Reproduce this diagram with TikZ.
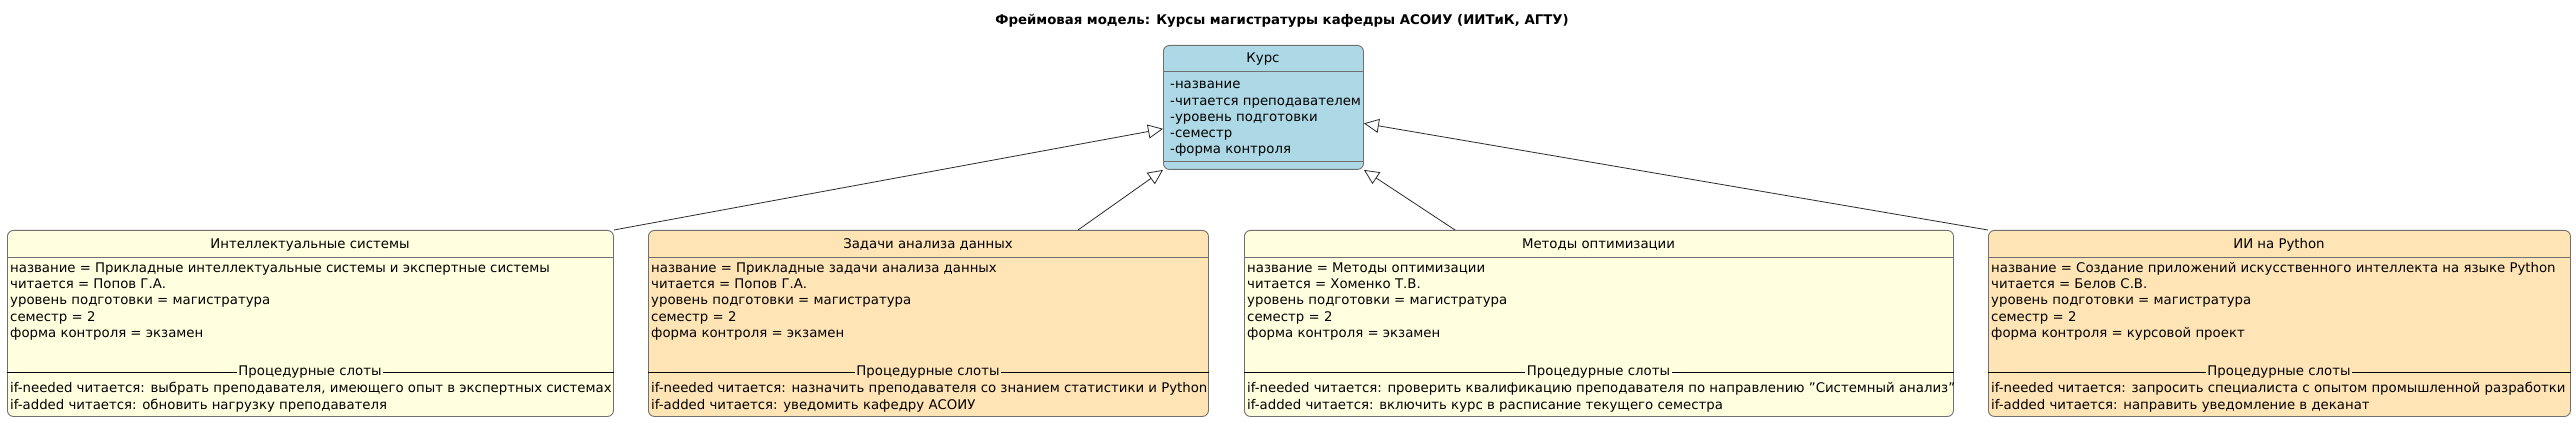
\documentclass[tikz,border=0pt]{standalone}
\usepackage{fontspec}
\setmainfont{DejaVu Sans}
\usetikzlibrary{arrows.meta}
\definecolor{kursblue}{HTML}{ADD8E6}
\definecolor{fyellow}{HTML}{FFFFE0}
\definecolor{forange}{HTML}{FFE4B5}
\definecolor{bordergray}{HTML}{707070}
\definecolor{linegray}{HTML}{2A2A2A}
\begin{document}
\begin{tikzpicture}[x=1pt,y=-1pt,
  frame/.style={draw=bordergray, line width=0.9pt, rounded corners=6pt, inner sep=0pt, anchor=north west},
  txt/.style={inner sep=0pt, font=\fontsize{13.3}{16.3}\selectfont},
  ttl/.style={inner sep=0pt, font=\fontsize{13.3}{16.3}\selectfont\bfseries},
  hsep/.style={draw=bordergray, line width=0.9pt},
  psep/.style={draw=black, line width=0.8pt},
  plabel/.style={txt, inner xsep=1.5pt, inner ysep=1pt},
  genarrow/.style={draw=linegray, line width=0.8pt, -{Triangle[open, length=15pt, width=14pt, fill=white]}}
]
\useasboundingbox (0,0) rectangle (2576,422);

\node[ttl, anchor=base] (title) at (1282,24.5) {Фреймовая модель: Курсы магистратуры кафедры АСОИУ (ИИТиК, АГТУ)};

% Kurs
\node[frame, fill=kursblue, minimum width=200pt, minimum height=124pt] (k) at (1163,45) {};
\node[txt, anchor=base] (kh) at (1263,62.5) {Курс};
\draw[hsep] (k.west |- 0,71) -- (k.east |- 0,71);
\draw[hsep] (k.west |- 0,161) -- (k.east |- 0,161);
\node[txt, anchor=north west, align=left] (ka) at (1170,77.1) {\strut-название\\-читается преподавателем\\-уровень подготовки\\-семестр\\-форма контроля};

% Box 1
\node[frame, fill=fyellow, minimum width=606pt, minimum height=186pt] (b1) at (7,230) {};
\node[txt, anchor=base] (b1h) at (310,248.5) {Интеллектуальные системы};
\draw[hsep] (b1.west |- 0,257) -- (b1.east |- 0,257);
\node[txt, anchor=north west, align=left] (b1a) at (10,260.6) {\strut название = Прикладные интеллектуальные системы и экспертные системы\\читается = Попов Г.А.\\уровень подготовки = магистратура\\семестр = 2\\форма контроля = экзамен};
\draw[psep] (b1.west |- 0,372) -- (b1.east |- 0,372);
\node[plabel, fill=fyellow] (b1s) at (310,372) {Процедурные слоты};
\node[txt, anchor=north west, align=left] (b1p) at (10,381.1) {\strut if-needed читается: выбрать преподавателя, имеющего опыт в экспертных системах\\if-added читается: обновить нагрузку преподавателя};

% Box 2
\node[frame, fill=forange, minimum width=560pt, minimum height=186pt] (b2) at (648,230) {};
\node[txt, anchor=base] (b2h) at (928,248.5) {Задачи анализа данных};
\draw[hsep] (b2.west |- 0,257) -- (b2.east |- 0,257);
\node[txt, anchor=north west, align=left] (b2a) at (651,260.6) {\strut название = Прикладные задачи анализа данных\\читается = Попов Г.А.\\уровень подготовки = магистратура\\семестр = 2\\форма контроля = экзамен};
\draw[psep] (b2.west |- 0,372) -- (b2.east |- 0,372);
\node[plabel, fill=forange] (b2s) at (928,372) {Процедурные слоты};
\node[txt, anchor=north west, align=left] (b2p) at (651,381.1) {\strut if-needed читается: назначить преподавателя со знанием статистики и Python\\if-added читается: уведомить кафедру АСОИУ};

% Box 3
\node[frame, fill=fyellow, minimum width=709pt, minimum height=186pt] (b3) at (1244,230) {};
\node[txt, anchor=base] (b3h) at (1598.5,248.5) {Методы оптимизации};
\draw[hsep] (b3.west |- 0,257) -- (b3.east |- 0,257);
\node[txt, anchor=north west, align=left] (b3a) at (1247,260.6) {\strut название = Методы оптимизации\\читается = Хоменко Т.В.\\уровень подготовки = магистратура\\семестр = 2\\форма контроля = экзамен};
\draw[psep] (b3.west |- 0,372) -- (b3.east |- 0,372);
\node[plabel, fill=fyellow] (b3s) at (1598.5,372) {Процедурные слоты};
\node[txt, anchor=north west, align=left] (b3p) at (1247,381.1) {\strut if-needed читается: проверить квалификацию преподавателя по направлению "Системный анализ"\\if-added читается: включить курс в расписание текущего семестра};

% Box 4
\node[frame, fill=forange, minimum width=582pt, minimum height=186pt] (b4) at (1988,230) {};
\node[txt, anchor=base] (b4h) at (2279,248.5) {ИИ на Python};
\draw[hsep] (b4.west |- 0,257) -- (b4.east |- 0,257);
\node[txt, anchor=north west, align=left] (b4a) at (1991,260.6) {\strut название = Создание приложений искусственного интеллекта на языке Python\\читается = Белов С.В.\\уровень подготовки = магистратура\\семестр = 2\\форма контроля = курсовой проект};
\draw[psep] (b4.west |- 0,372) -- (b4.east |- 0,372);
\node[plabel, fill=forange] (b4s) at (2279,372) {Процедурные слоты};
\node[txt, anchor=north west, align=left] (b4p) at (1991,381.1) {\strut if-needed читается: запросить специалиста с опытом промышленной разработки\\if-added читается: направить уведомление в деканат};

% Arrows
\draw[genarrow] (b1.north east) -- (k.192);
\draw[genarrow] (b2.32.6) -- (k.south west);
\draw[genarrow] (b3.147.4) -- (k.south east);
\draw[genarrow] (b4.north west) -- (k.351.5);
\end{tikzpicture}
\end{document}
